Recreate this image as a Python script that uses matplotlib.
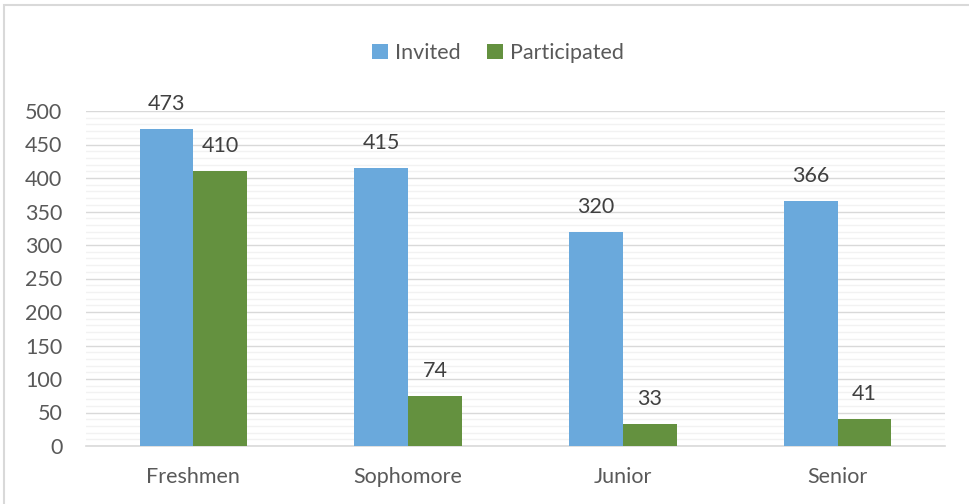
import matplotlib
matplotlib.use("Agg")
import matplotlib.pyplot as plt
from matplotlib.patches import Rectangle
from matplotlib.ticker import MultipleLocator
import numpy as np

categories = ["Freshmen", "Sophomore", "Junior", "Senior"]
invited = [473, 415, 320, 366]
participated = [410, 74, 33, 41]
series_names = ["Invited", "Participated"]

plt.rcParams['font.family'] = ['Lato', 'DejaVu Sans']

W, H = 969, 504
fig = plt.figure(figsize=(W/100, H/100), dpi=100)
fig.patch.set_facecolor("white")

# outer chart border (extends past right/bottom)
fig.patches.append(Rectangle((4/W, -0.1), 1.2, (H-5)/H + 0.1, transform=fig.transFigure,
                             fill=False, edgecolor="#D9D9D9", linewidth=1.5))

ax = fig.add_axes([86/W, (H-446)/H, (945-86)/W, (446-111)/H])
x = np.arange(len(categories))
bw = 0.25
blue = "#6AA9DC"
green = "#64913F"
b1 = ax.bar(x - bw/2, invited, bw, color=blue, label=series_names[0], zorder=3)
b2 = ax.bar(x + bw/2, participated, bw, color=green, label=series_names[1], zorder=3)

for bars in (b1, b2):
    for r in bars:
        ax.annotate(f"{int(r.get_height())}", (r.get_x() + r.get_width()/2, r.get_height()),
                    xytext=(0, 25), textcoords="offset pixels",
                    ha="center", va="center", fontsize=15.5, color="#404040", annotation_clip=False)

ax.set_xlim(-0.5, 3.5)
ax.set_ylim(0, 500)
ax.yaxis.set_major_locator(MultipleLocator(50))
ax.yaxis.set_minor_locator(MultipleLocator(10))
ax.grid(axis="y", which="major", color="#D9D9D9", linewidth=1.0, zorder=0)
ax.grid(axis="y", which="minor", color="#F2F2F2", linewidth=1.0, zorder=0)
ax.set_axisbelow(True)
for s in ["top", "right", "left"]:
    ax.spines[s].set_visible(False)
ax.spines["bottom"].set_color("#D9D9D9")
ax.spines["bottom"].set_linewidth(1.2)
ax.tick_params(axis="both", which="both", length=0, labelsize=15.5, colors="#595959")
ax.tick_params(axis="y", pad=17)
ax.tick_params(axis="x", pad=15)
ax.set_xticks(x)
ax.set_xticklabels(categories)

fig.legend(handles=[b1, b2], labels=series_names, loc="center", bbox_to_anchor=(498/W, (H-53)/H),
           ncol=2, frameon=False, fontsize=15.5, handlelength=0.75, handleheight=0.75,
           handletextpad=0.35, columnspacing=1.2, labelcolor="#595959")

fig.savefig("out.png", dpi=100, facecolor="white")
